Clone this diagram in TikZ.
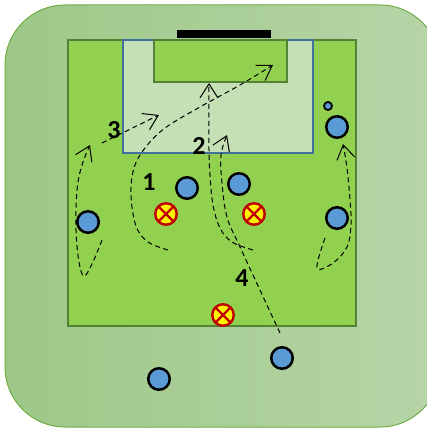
\documentclass[tikz,border=0pt]{standalone}
\usepackage{fontspec}
\setmainfont{Carlito}
\usetikzlibrary{arrows.meta}
\definecolor{pitch}{HTML}{92D050}
\definecolor{pitchline}{HTML}{548235}
\definecolor{boxfill}{HTML}{C5E0B4}
\definecolor{boxline}{HTML}{41719C}
\definecolor{bgleft}{RGB}{157,200,135}
\definecolor{bgright}{RGB}{183,213,168}
\definecolor{bgline}{HTML}{70AD47}
\definecolor{blueplayer}{HTML}{5B9BD5}
\definecolor{redx}{HTML}{C00000}
\tikzset{
  player/.style={circle, draw=black, fill=blueplayer, line width=2.5pt, minimum size=21.5pt, inner sep=0pt},
  defender/.style={circle, draw=redx, fill=yellow, line width=2.4pt, minimum size=21.5pt, inner sep=0pt,
    path picture={\draw[redx, line width=2.4pt] (path picture bounding box.north west) -- (path picture bounding box.south east)
      (path picture bounding box.north east) -- (path picture bounding box.south west);}},
  lbl/.style={font=\fontsize{26}{28}\selectfont\bfseries},
  run/.style={line width=1pt, dash pattern=on 5pt off 3.5pt, ->}
}
\begin{document}
\begin{tikzpicture}[x=1pt, y=-1pt, >={Straight Barb[length=14pt,width=18pt]}]
  \useasboundingbox (0,0) rectangle (427,428);
  % 1. 背景
  \shade[left color=bgleft, right color=bgright, draw=bgline, line width=1pt, rounded corners=60pt]
    (5,5) rectangle (440,427);

  % 2. 球场
  \draw[fill=pitch, draw=pitchline, line width=2.2pt] (68,40) rectangle (356,326);
  \draw[fill=boxfill, draw=boxline, line width=2.2pt] (123,40) rectangle (313,153);
  \draw[fill=pitch, draw=pitchline, line width=2.2pt] (154,40) rectangle (287,82);
  \fill[black] (177,30) rectangle (271,38);

  % 3. 跑动路线
  \draw[run] plot[smooth, tension=0.6] coordinates {(102,240) (92,264) (84,276) (79,262) (76,230) (77,190) (82,165) (90,145)};
  \draw[run] (102,143) -- (159,115);
  \draw[run] plot[smooth, tension=0.6] coordinates {(168,250) (148,242) (136,226) (131,195) (134,168) (145,148) (165,128) (200,107) (240,85) (273,65)};
  \draw[run] plot[smooth, tension=0.6] coordinates {(253,250) (232,242) (220,228) (213,205) (210,175) (209,150) (209,83)};
  \draw[run] plot[smooth, tension=0.6] coordinates {(280,333) (240,247) (227,217) (222,183) (221,155) (227,135)};
  \draw[run] plot[smooth, tension=0.6] coordinates {(325,238) (317,268) (333,263) (347,247) (351,225) (350,200) (347,168) (343,144)};

  % 4. 球员
  \node[player] (p1) at (187,188) {};
  \node[player] (p2) at (239,184) {};
  \node[player] (p3) at (88,222) {};
  \node[player] (p4) at (337,218) {};
  \node[player] (p5) at (337,127) {};
  \node[player, minimum size=8pt, line width=1.8pt] (ball) at (328,106) {};
  \node[player] (p6) at (282,358) {};
  \node[player] (p7) at (159,379) {};

  \node[defender] (d1) at (166,214) {};
  \node[defender] (d2) at (254,214) {};
  \node[defender] (d3) at (223,315) {};

  % 5. 编号
  \node[lbl] (n1) at (149,182) {1};
  \node[lbl] (n2) at (199,146) {2};
  \node[lbl] (n3) at (114,130) {3};
  \node[lbl] (n4) at (242,278) {4};
\end{tikzpicture}
\end{document}
